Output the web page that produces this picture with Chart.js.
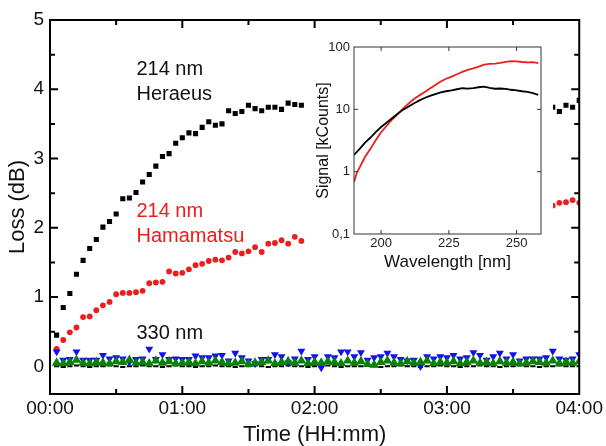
<!DOCTYPE html>
<html>
<head>
<meta charset="utf-8">
<script src="https://cdn.jsdelivr.net/npm/chart.js@4.4.1/dist/chart.umd.min.js"></script>
<style>
  html, body { margin: 0; padding: 0; background: #fff; }
  #wrap { position: relative; width: 606px; height: 446px; }
  #main { position: absolute; left: 0; top: 0; }
  #inset { position: absolute; left: 311px; top: 30px; background: #fff; }
</style>
</head>
<body>
<div id="wrap">
  <canvas id="main" width="606" height="446"></canvas>
  <canvas id="inset" width="242" height="246"></canvas>
</div>
<script>
// ---- main plot: loss vs time (minutes) ----
const timesGap = [3,6,9,12,15,18,21,24,27,30,33,36,39,42,45,48,51,54,57,60,63,66,69,72,75,78,81,84,87,90,93,96,99,102,105,108,111,114,228,231,234,237,240];
const heraeus214 = [0.45,0.85,1.05,1.33,1.53,1.70,1.83,2.01,2.09,2.20,2.42,2.43,2.51,2.66,2.77,2.89,3.03,3.07,3.22,3.30,3.37,3.36,3.45,3.53,3.48,3.50,3.69,3.65,3.68,3.77,3.72,3.69,3.74,3.74,3.71,3.80,3.78,3.77,3.74,3.68,3.77,3.74,3.84];
const hamamatsu214 = [0.25,0.38,0.49,0.56,0.71,0.72,0.81,0.88,0.93,1.04,1.06,1.06,1.07,1.09,1.20,1.21,1.22,1.37,1.34,1.35,1.40,1.46,1.48,1.52,1.54,1.53,1.57,1.65,1.63,1.66,1.72,1.65,1.77,1.78,1.82,1.77,1.87,1.81,2.32,2.36,2.37,2.40,2.36];

const timesAll = [3,6,9,12,15,18,21,24,27,30,33,36,39,42,45,48,51,54,57,60,63,66,69,72,75,78,81,84,87,90,93,96,99,102,105,108,111,114,117,120,
  123,126,129,132,135,138,141,144,147,150,153,156,159,162,165,168,171,174,177,180,183,186,189,192,195,198,201,204,207,210,213,216,219,222,225,228,231,234,237,240];
const blue330 = [0.21,0.09,0.10,0.21,0.09,0.09,0.09,0.16,0.11,0.125,0.11,0.06,0.10,0.11,0.25,0.10,0.17,0.10,0.11,0.10,0.10,0.15,0.125,0.125,0.15,0.16,0.08,0.19,0.125,0.08,0.04,0.10,0.10,0.17,0.14,0.05,
  0.11,0.22,0.10,0.14,-0.02,0.14,0.125,0.21,0.21,0.14,0.20,0.09,0.125,0.14,0.19,0.14,0.10,0.08,0.09,0.0,0.14,0.11,0.14,0.125,0.16,0.11,0.125,0.20,0.16,0.09,0.14,0.19,0.11,0.17,0.08,0.11,0.11,0.11,0.125,0.22,0.11,0.09,0.11,0.17];
const green330 = [0.05,0.04,0.06,0.09,0.05,0.04,0.06,0.05,0.04,0.07,0.06,0.09,0.05,0.06,0.04,0.08,0.05,0.07,0.04,0.05,0.06,0.04,0.07,0.05,0.08,0.06,0.04,0.05,0.07,0.03,0.05,0.06,0.08,0.04,0.06,0.07,0.05,0.08,0.04,0.06,
  0.05,0.07,0.06,0.04,0.08,0.05,0.07,0.03,0.02,0.06,0.08,0.05,0.04,0.07,0.05,0.06,0.08,0.04,0.06,0.05,0.07,0.04,0.06,0.08,0.05,0.06,0.04,0.07,0.05,0.06,0.04,0.05,0.07,0.06,0.05,0.08,0.04,0.06,0.05,0.07];
const black330 = [0.0,-0.01,0.0,0.01,0.0,-0.01,0.0,0.0,0.01,0.0,-0.01,0.0,0.0,0.01,0.0,0.0,-0.01,0.0,0.01,0.0,0.0,-0.01,0.0,0.0,0.01,0.0,0.0,-0.01,0.0,0.0,
  0.01,0.0,-0.01,0.0,0.0,0.01,0.0,0.0,-0.01,0.0,0.0,0.01,0.0,-0.01,0.0,0.0,0.0,0.01,0.0,-0.01,0.0,0.0,0.01,0.0,0.0,-0.01,0.0,0.0,0.01,0.0,
  0.0,-0.01,0.0,0.0,0.01,0.0,0.0,-0.01,0.0,0.0,0.01,0.0,0.0,-0.01,0.0,0.0,0.01,0.0,0.0,0.0];

const timeTicks = [0, 60, 120, 180, 240];
const lossTicks = [0, 1, 2, 3, 4, 5];

// ---- inset: spectra ----
const wlBlack = [190,192,194,196,198,200,202,204,206,208,210,212,214,216,218,220,222,224,226,228,230,232,234,236,238,240,242,244,246,248,250,252,254,256,258];
const sigHeraeus = [1.85,2.3,2.9,3.5,4.3,5.2,6.1,7.2,8.4,9.8,11.0,12.4,13.8,15.2,16.4,17.6,18.7,19.5,20.1,21.0,21.8,21.5,21.9,22.6,23.1,22.0,21.4,21.6,21.3,20.6,20.2,19.5,19.0,18.2,17.0];
const wlRed = [190,191,192,194,196,198,200,202,204,206,208,210,212,214,216,218,220,222,224,226,228,230,232,234,236,238,240,242,244,246,248,250,252,254,256,258];
const sigHamamatsu = [0.68,0.95,1.15,1.7,2.3,3.2,4.3,5.4,6.8,8.3,10.2,12.2,14.5,16.6,18.8,21.5,24.5,28.0,31.0,33.5,36.5,40.0,43.0,45.5,48.5,52.0,53.5,54.0,55.5,57.5,59.5,59.0,57.5,56.5,57.0,55.0];
const signalTicks = [0.1, 1, 10, 100];
const wlTicks = [200, 225, 250];

const FONT = "'Liberation Sans', Arial, sans-serif";
const RED = '#ee1c1c';

function xy(xs, ys) {
    return ys.map((v, i) => ({ x: xs[i], y: v }));
}

function pad2(n) {
    return (n < 10 ? '0' : '') + n;
}

// frame + inward ticks, drawn after the data
function makeFrame(cfg) {
    return {
        id: 'frame',
        afterDatasetsDraw(chart) {
            const { ctx, chartArea: a, scales } = chart;
            ctx.save();
            ctx.strokeStyle = cfg.color;
            ctx.lineWidth = cfg.width;
            ctx.beginPath();
            cfg.xMajor.forEach(v => {
                const px = scales.x.getPixelForValue(v);
                ctx.moveTo(px, a.bottom); ctx.lineTo(px, a.bottom - cfg.major);
                ctx.moveTo(px, a.top); ctx.lineTo(px, a.top + cfg.major);
            });
            cfg.xMinor.forEach(v => {
                const px = scales.x.getPixelForValue(v);
                ctx.moveTo(px, a.bottom); ctx.lineTo(px, a.bottom - cfg.minor);
                ctx.moveTo(px, a.top); ctx.lineTo(px, a.top + cfg.minor);
            });
            cfg.yMajor.forEach(v => {
                const py = scales.y.getPixelForValue(v);
                ctx.moveTo(a.left, py); ctx.lineTo(a.left + cfg.major, py);
                ctx.moveTo(a.right, py); ctx.lineTo(a.right - cfg.major, py);
            });
            cfg.yMinor.forEach(v => {
                const py = scales.y.getPixelForValue(v);
                ctx.moveTo(a.left, py); ctx.lineTo(a.left + cfg.minor, py);
                ctx.moveTo(a.right, py); ctx.lineTo(a.right - cfg.minor, py);
            });
            ctx.stroke();
            ctx.strokeRect(a.left, a.top, a.right - a.left, a.bottom - a.top);
            ctx.restore();
        }
    };
}

const labels = {
    id: 'labels',
    afterDraw(chart) {
        const { ctx, scales } = chart;
        const items = [
            { t: '214 nm', y: 4.28, c: '#111' },
            { t: 'Heraeus', y: 3.93, c: '#111' },
            { t: '214 nm', y: 2.23, c: RED },
            { t: 'Hamamatsu', y: 1.87, c: RED },
            { t: '330 nm', y: 0.475, c: '#111' }
        ];
        ctx.save();
        ctx.font = '20px ' + FONT;
        ctx.textBaseline = 'middle';
        items.forEach(it => {
            ctx.fillStyle = it.c;
            ctx.fillText(it.t, scales.x.getPixelForValue(39.2), scales.y.getPixelForValue(it.y));
        });
        ctx.restore();
    }
};

new Chart(document.getElementById('main'), {
    type: 'scatter',
    data: {
        datasets: [
            { label: '214 nm Heraeus', data: xy(timesGap, heraeus214), pointStyle: 'rect', pointRadius: 3.6,
              backgroundColor: '#000', borderColor: '#000', borderWidth: 0, order: 5 },
            { label: '214 nm Hamamatsu', data: xy(timesGap, hamamatsu214), pointStyle: 'circle', pointRadius: 2.9,
              backgroundColor: RED, borderColor: RED, borderWidth: 0, order: 4 },
            { label: '330 nm black', data: xy(timesAll, black330), pointStyle: 'line', pointRadius: 2.6,
              borderColor: '#000', borderWidth: 2, order: 3 },
            { label: '330 nm blue', data: xy(timesAll, blue330), pointStyle: 'triangle', rotation: 180, pointRadius: 4.6,
              backgroundColor: '#1010f0', borderColor: '#1010f0', borderWidth: 0, order: 2 },
            { label: '330 nm green', data: xy(timesAll, green330), pointStyle: 'triangle', pointRadius: 5.6,
              backgroundColor: '#0a820a', borderColor: '#0a820a', borderWidth: 0, order: 1 }
        ]
    },
    options: {
        animation: false,
        responsive: false,
        events: [],
        layout: { padding: { top: 20, right: 24, left: 0, bottom: 0 } },
        plugins: { legend: { display: false }, tooltip: { enabled: false } },
        scales: {
            x: {
                type: 'linear', min: 0, max: 240,
                grid: { display: false, drawTicks: false }, border: { display: false },
                afterBuildTicks: s => { s.ticks = timeTicks.map(v => ({ value: v })); },
                afterFit: s => { s.height = 52; },
                ticks: {
                    padding: 3, maxRotation: 0, autoSkip: false, color: '#111',
                    font: { family: FONT, size: 19 },
                    callback: v => pad2(Math.floor(v / 60)) + ':' + pad2(v % 60)
                },
                title: { display: true, text: 'Time (HH:mm)', color: '#111',
                         font: { family: FONT, size: 22, lineHeight: 1 }, padding: { top: 0, bottom: 0 } }
            },
            y: {
                type: 'linear', min: -0.4, max: 5,
                grid: { display: false, drawTicks: false }, border: { display: false },
                afterBuildTicks: s => { s.ticks = lossTicks.map(v => ({ value: v })); },
                afterFit: s => { s.width = 50; },
                ticks: { padding: 6, color: '#111', font: { family: FONT, size: 19 }, callback: v => String(v) },
                title: { display: true, text: 'Loss (dB)', color: '#111',
                         font: { family: FONT, size: 22, lineHeight: 1 }, padding: { top: 7, bottom: 0 } }
            }
        }
    },
    plugins: [makeFrame({ color: '#000', width: 2, major: 8, minor: 5,
        xMajor: [60, 120, 180], xMinor: [30, 90, 150, 210],
        yMajor: [1, 2, 3, 4], yMinor: [0.5, 1.5, 2.5, 3.5, 4.5] }), labels]
});

new Chart(document.getElementById('inset'), {
    type: 'line',
    data: {
        datasets: [
            { label: 'Heraeus', data: xy(wlBlack, sigHeraeus), borderColor: '#000', borderWidth: 1.8, pointRadius: 0, tension: 0 },
            { label: 'Hamamatsu', data: xy(wlRed, sigHamamatsu), borderColor: RED, borderWidth: 1.8, pointRadius: 0, tension: 0 }
        ]
    },
    options: {
        animation: false,
        responsive: false,
        events: [],
        layout: { padding: { top: 17, right: 12, left: 0, bottom: 0 } },
        plugins: { legend: { display: false }, tooltip: { enabled: false } },
        scales: {
            x: {
                type: 'linear', min: 190, max: 259,
                grid: { display: false, drawTicks: false }, border: { display: false },
                afterBuildTicks: s => { s.ticks = wlTicks.map(v => ({ value: v })); },
                afterFit: s => { s.height = 42; },
                ticks: { padding: 2, maxRotation: 0, autoSkip: false, color: '#222', font: { family: FONT, size: 13 } },
                title: { display: true, text: 'Wavelength [nm]', color: '#111',
                         font: { family: FONT, size: 17, lineHeight: 1 }, padding: { top: 0, bottom: 5 } }
            },
            y: {
                type: 'logarithmic', min: 0.1, max: 100,
                grid: { display: false, drawTicks: false }, border: { display: false },
                afterBuildTicks: s => { s.ticks = signalTicks.map(v => ({ value: v })); },
                afterFit: s => { s.width = 43; },
                ticks: { padding: 4, color: '#222', font: { family: FONT, size: 13 },
                         callback: v => String(v).replace('.', ',') },
                title: { display: true, text: 'Signal [kCounts]', color: '#111',
                         font: { family: FONT, size: 16, lineHeight: 1 }, padding: { top: 5, bottom: 0 } }
            }
        }
    },
    plugins: [makeFrame({ color: '#333', width: 1, major: 4, minor: 2,
        xMajor: [200, 225, 250], xMinor: [], yMajor: [1, 10], yMinor: [] })]
});
</script>
</body>
</html>
